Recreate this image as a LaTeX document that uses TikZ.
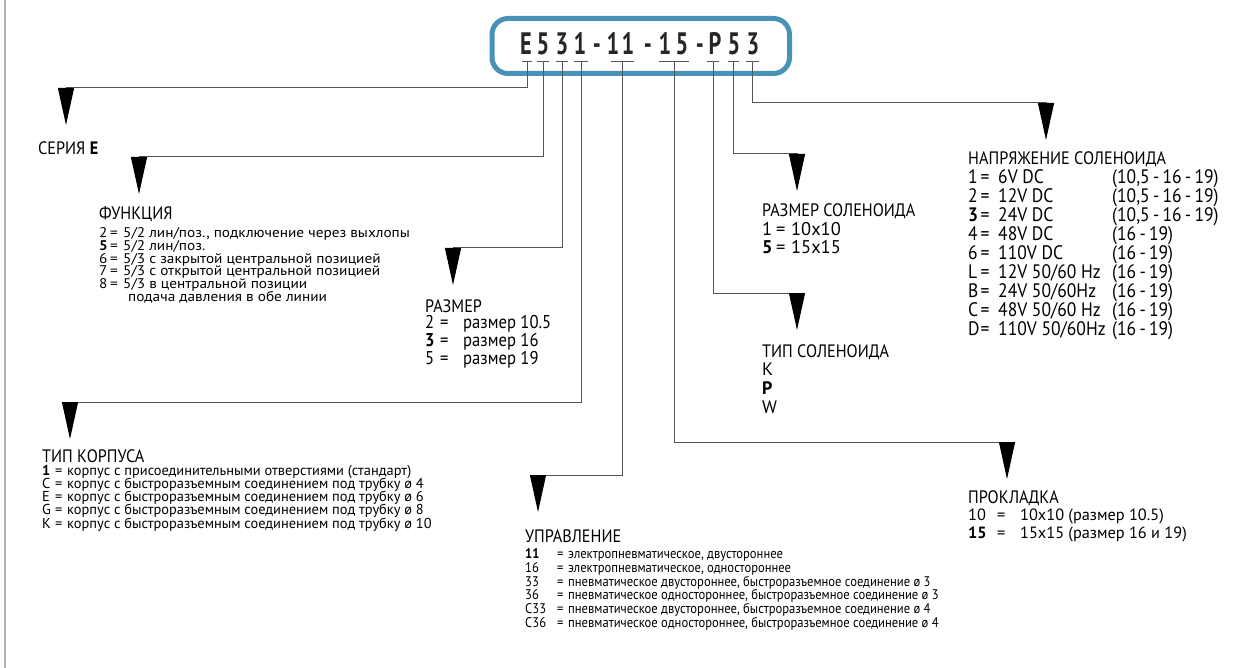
\documentclass[tikz,border=0pt]{standalone}
\usepackage{fontspec}
\setmainfont[FakeStretch=0.9]{PT Sans}
\newfontfamily\listfont{PT Sans}
\newfontfamily\listwide[FakeStretch=1.09]{PT Sans}
\newfontfamily\codefont[FakeStretch=0.72]{PT Sans}
\usetikzlibrary{arrows.meta}
\definecolor{boxblue}{RGB}{72,146,184}
\definecolor{leadgray}{RGB}{85,85,85}
\lineskiplimit=-30pt
% code column, then the equals sign column
\newcommand{\kod}[3]{\makebox[#1][l]{#3}\makebox[#2][l]{=}}

\tikzset{
  lead/.style={draw=leadgray, line width=1pt, -{Triangle[width=16pt,length=37pt,color=black,fill=black]}},
  tick/.style={draw=leadgray, line width=1pt},
  codechar/.style={font=\codefont\fontsize{31}{31}\selectfont\bfseries, text=black!85, inner sep=0pt, anchor=base},
  head/.style={font=\fontsize{18}{18}\selectfont, inner sep=0pt, anchor=base west},
  rows/.style 2 args={font=\listfont\fontsize{#1}{#2}\selectfont, align=left, inner sep=0pt, anchor=north west}
}

\begin{document}
\begin{tikzpicture}[x=1pt,y=-1pt]
  \useasboundingbox (0,0) rectangle (1260,668);
  \draw[gray!60, line width=2pt] (5,0) -- (5,668);

  % order code
  \node[draw=boxblue, line width=5pt, rounded corners=16pt, minimum width=297.5pt, minimum height=55pt, inner sep=0pt] (codebox) at (640.75,46) {};
  \foreach \c/\x [count=\i] in {E/526,5/543,3/562,1/580,-/597,1/613,1/628,-/648,1/665,5/682,-/700,P/715,5/734,3/753}
    \node[codechar] (ch\i) at (\x,55) {\c};
  \foreach \n/\xa/\xb in {E/522/532,F/537/549,S/556/568,K/574/588,U/611/634,G/659/689,T/707/719,R/728/739,V/746/759}{
    \draw[tick] (\xa,62) -- (\xb,62);
    \coordinate (t\n) at ({(\xa+\xb)/2},62);
  }

  % arrow tips above the groups
  \coordinate (aE) at (66,125);
  \coordinate (aF) at (139,194);
  \coordinate (aS) at (453,285);
  \coordinate (aK) at (70,439);
  \coordinate (aU) at (538,512);
  \coordinate (aG) at (1007,479);
  \coordinate (aT) at (797,330);
  \coordinate (aR) at (797,191);
  \coordinate (aV) at (1046,140);
  \foreach \n in {E,F,S,K,U,G,T,R,V}
    \draw[lead] (t\n) |- ([yshift=37pt]a\n) -- (a\n);

  % series
  \node[head] (serhead) at (38,155) {СЕРИЯ \textbf{E}};

  % function
  \node[head] (funhead) at (99,220) {ФУНКЦИЯ};
  \node[rows={14}{12.7}, font=\listwide\fontsize{14}{12.7}\selectfont] (funrows) at (99,227.5) {\kod{11pt}{13pt}{2}5/2 лин/поз., подключение через выхлопы\\
    \kod{11pt}{13pt}{\textbf{5}}5/2 лин/поз.\\
    \kod{11pt}{13pt}{6}5/3 с закрытой центральной позицией\\
    \kod{11pt}{13pt}{7}5/3 с открытой центральной позицией\\
    \kod{11pt}{13pt}{8}5/3 в центральной позиции\\
    \hspace*{29pt}подача давления в обе линии};

  % size
  \node[head] (sizhead) at (425,312) {РАЗМЕР};
  \node[rows={18.5}{18}, font=\rmfamily\fontsize{18.5}{18}\selectfont] (sizrows) at (425,315.5) {\kod{15pt}{23pt}{2}размер 10.5\\
    \kod{15pt}{23pt}{\textbf{3}}размер 16\\
    \kod{15pt}{23pt}{5}размер 19};

  % body type
  \node[head] (bodhead) at (42,462) {ТИП КОРПУСА};
  \node[rows={14.4}{13.1}] (bodrows) at (42,465.2) {\kod{13pt}{12pt}{\textbf{1}}корпус с присоединительными отверстиями (стандарт)\\
    \kod{13pt}{12pt}{C}корпус с быстроразъемным соединением под трубку ø 4\\
    \kod{13pt}{12pt}{E}корпус с быстроразъемным соединением под трубку ø 6\\
    \kod{13pt}{12pt}{G}корпус с быстроразъемным соединением под трубку ø 8\\
    \kod{13pt}{12pt}{K}корпус с быстроразъемным соединением под трубку ø 10};

  % actuation
  \node[head] (acthead) at (525,542) {УПРАВЛЕНИЕ};
  \node[rows={14}{13.8}, font=\rmfamily\fontsize{14}{13.8}\selectfont] (actrows) at (525,548.4) {\kod{32pt}{11pt}{\textbf{11}}электропневматическое, двустороннее\\
    \kod{32pt}{11pt}{16}электропневматическое, одностороннее\\
    \kod{32pt}{11pt}{33}пневматическое двустороннее, быстроразъемное соединение ø 3\\
    \kod{32pt}{11pt}{36}пневматическое одностороннее, быстроразъемное соединение ø 3\\
    \kod{32pt}{11pt}{C33}пневматическое двустороннее, быстроразъемное соединение ø 4\\
    \kod{32pt}{11pt}{C36}пневматическое одностороннее, быстроразъемное соединение ø 4};

  % solenoid size
  \node[head] (solhead) at (762,217) {РАЗМЕР  СОЛЕНОИДА};
  \node[rows={18.4}{18}] (solrows) at (762,222.6) {\kod{14pt}{15pt}{1}10x10\\
    \kod{14pt}{15pt}{\textbf{5}}15x15};

  % solenoid type
  \node[head] (typhead) at (762,357) {ТИП  СОЛЕНОИДА};
  \node[rows={18}{19}] (typrows) at (762,362.8) {K\\ \textbf{P}\\ W};

  % solenoid voltage
  \node[head] (volhead) at (968,165) {НАПРЯЖЕНИЕ СОЛЕНОИДА};
  \node[rows={19.5}{19}, font=\rmfamily\fontsize{19.5}{19}\selectfont] (volrows) at (968,169) {\kod{12.5pt}{17.5pt}{1}\makebox[114pt][l]{6V DC}(10,5\,-\,16\,-\,19)\\
    \kod{12.5pt}{17.5pt}{2}\makebox[114pt][l]{12V DC}(10,5\,-\,16\,-\,19)\\
    \kod{12.5pt}{17.5pt}{\textbf{3}}\makebox[114pt][l]{24V DC}(10,5\,-\,16\,-\,19)\\
    \kod{12.5pt}{17.5pt}{4}\makebox[114pt][l]{48V DC}(16\,-\,19)\\
    \kod{12.5pt}{17.5pt}{6}\makebox[114pt][l]{110V DC}(16\,-\,19)\\
    \kod{12.5pt}{17.5pt}{L}\makebox[114pt][l]{12V 50/60 Hz}(16\,-\,19)\\
    \kod{12.5pt}{17.5pt}{B}\makebox[114pt][l]{24V 50/60Hz}(16\,-\,19)\\
    \kod{12.5pt}{17.5pt}{C}\makebox[114pt][l]{48V 50/60 Hz}(16\,-\,19)\\
    \kod{12.5pt}{17.5pt}{D}\makebox[114pt][l]{110V 50/60Hz}(16\,-\,19)};

  % gasket
  \node[head] (gashead) at (968,503) {ПРОКЛАДКА};
  \node[rows={16.3}{18}] (gasrows) at (968,509) {\kod{29pt}{23pt}{10}10x10 (размер 10.5)\\
    \kod{29pt}{23pt}{\textbf{15}}15x15 (размер 16 и 19)};
\end{tikzpicture}
\end{document}
